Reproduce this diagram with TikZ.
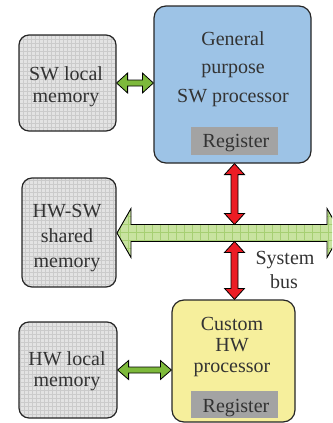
\documentclass[tikz,border=0pt]{standalone}
\usepackage{fontspec}
\setmainfont{Liberation Serif}
\usetikzlibrary{calc}
\definecolor{memfill}{HTML}{E3E3E3}
\definecolor{memgrid}{HTML}{CBCBCB}
\definecolor{swblue}{HTML}{9DC3E6}
\definecolor{hwyellow}{HTML}{F6EF9C}
\definecolor{reggray}{HTML}{A3A3A3}
\definecolor{linkgreen}{HTML}{7DB93B}
\definecolor{busfill}{HTML}{C8E3A0}
\definecolor{busgrid}{HTML}{A6CF73}
\definecolor{busred}{HTML}{EC1C24}
\definecolor{txt}{HTML}{333333}
\newcommand\hdarrow[6]{%
  \draw[#1] (#2) -- ($(#2)+(#6,#5)$) -- ($(#2)+(#6,#4)$) -- ($(#3)+(-#6,#4)$)
    -- ($(#3)+(-#6,#5)$) -- (#3) -- ($(#3)+(-#6,-#5)$) -- ($(#3)+(-#6,-#4)$)
    -- ($(#2)+(#6,-#4)$) -- ($(#2)+(#6,-#5)$) -- cycle;}
\newcommand\vdarrow[6]{%
  \draw[#1] (#2) -- ($(#2)+(#5,#6)$) -- ($(#2)+(#4,#6)$) -- ($(#3)+(#4,-#6)$)
    -- ($(#3)+(#5,-#6)$) -- (#3) -- ($(#3)+(-#5,-#6)$) -- ($(#3)+(-#4,-#6)$)
    -- ($(#2)+(-#4,#6)$) -- ($(#2)+(-#5,#6)$) -- cycle;}
\begin{document}
\begin{tikzpicture}[x=1pt,y=-1pt,
  membox/.style={draw=black!85, line width=1.2pt, rounded corners=10pt, fill=memfill,
    inner sep=0pt,
    path picture={\draw[memgrid, line width=0.35pt, step=4pt]
      (path picture bounding box.south west) grid (path picture bounding box.north east);}},
  procbox/.style={draw=black!85, line width=1.2pt, rounded corners=12pt, inner sep=0pt},
  regbox/.style={fill=reggray, inner sep=0pt},
  lbl/.style={anchor=base, inner sep=0pt, text=txt, font=\fontsize{20}{24}\selectfont},
  greenarrow/.style={fill=linkgreen, draw=black, line width=0.8pt, line join=miter},
  redarrow/.style={fill=busred, draw=black, line width=0.8pt, line join=miter},
  busarrow/.style={fill=busfill, draw=black, line width=0.9pt, line join=miter,
    path picture={\draw[busgrid, line width=0.5pt, step=8pt]
      (path picture bounding box.south west) grid (path picture bounding box.north east);}}
]
\useasboundingbox (0,0) rectangle (332,423);
\clip (0,0) rectangle (332,423);

% boxes
\node[membox, minimum width=97pt, minimum height=96pt] (swmem) at (67.5,83) {};
\node[membox, minimum width=94pt, minimum height=109pt] (shmem) at (69,232.5) {};
\node[membox, minimum width=98pt, minimum height=96pt] (hwmem) at (68,370) {};
\node[procbox, fill=swblue, minimum width=157pt, minimum height=157pt] (swproc) at (232.5,84.5) {};
\node[procbox, fill=hwyellow, minimum width=123pt, minimum height=122pt] (hwproc) at (233.5,361) {};
\node[regbox, minimum width=87pt, minimum height=28pt] (regtop) at (234.5,141) {};
\node[regbox, minimum width=87pt, minimum height=27pt] (regbot) at (234.5,404.5) {};

% bus
\coordinate (busL) at (117,233);
\coordinate (busR) at (341,233);
\hdarrow{busarrow}{busL}{busR}{8.5}{24.5}{14}

% links
\hdarrow{greenarrow}{swmem.east}{swmem.east -| swproc.west}{3}{10}{11}
\hdarrow{greenarrow}{hwmem.east}{hwmem.east -| hwproc.west}{3}{9.5}{11}
\coordinate (rtA) at (regtop.center |- swproc.south);
\coordinate (rtB) at ($(regtop.center |- busL)+(0,-8.5)$);
\coordinate (rbA) at ($(regtop.center |- busL)+(0,8.5)$);
\coordinate (rbB) at (regtop.center |- hwproc.north);
\vdarrow{redarrow}{rtA}{rtB}{3.5}{10}{11}
\vdarrow{redarrow}{rbA}{rbB}{3.5}{10}{11}

% texts
\node[lbl] (t1) at (233,45) {General};
\node[lbl] (t2) at (233,73) {purpose};
\node[lbl] (t3) at (233,102) {SW processor};
\node[lbl] (t4) at (236,147) {Register};
\node[lbl] (t5) at (66,80) {SW local};
\node[lbl] (t6) at (66,102) {memory};
\node[lbl] (t7) at (67,217) {HW-SW};
\node[lbl] (t8) at (67,242) {shared};
\node[lbl] (t9) at (67,267) {memory};
\node[lbl] (t10) at (285,264) {System};
\node[lbl] (t11) at (284,288) {bus};
\node[lbl] (t12) at (232,330) {Custom};
\node[lbl] (t13) at (232,351) {HW};
\node[lbl] (t14) at (232,372) {processor};
\node[lbl] (t15) at (236,412) {Register};
\node[lbl] (t16) at (67,365) {HW local};
\node[lbl] (t17) at (67,386) {memory};
\end{tikzpicture}
\end{document}
